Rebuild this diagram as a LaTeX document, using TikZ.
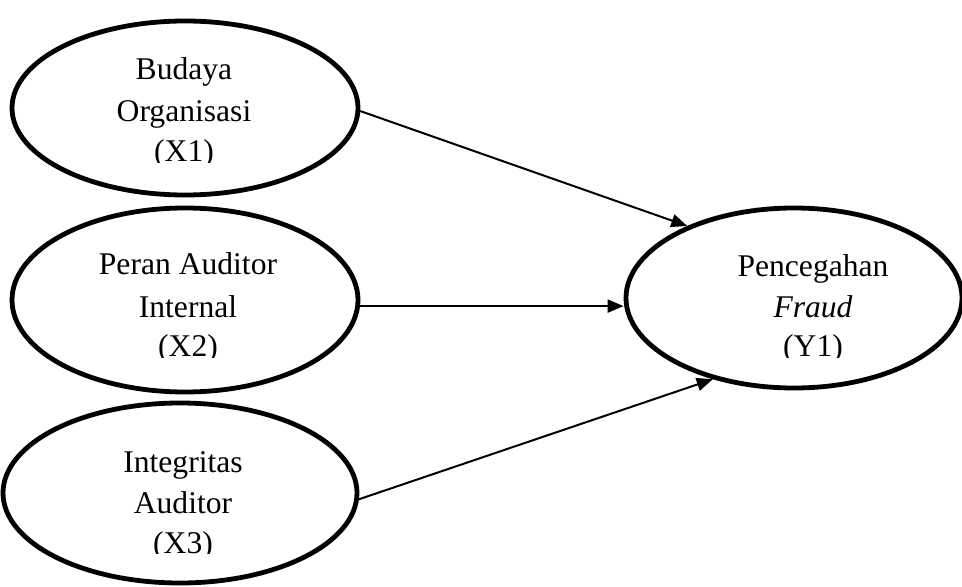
\documentclass[tikz,border=0pt]{standalone}
\usepackage{fontspec}
\setmainfont{Liberation Serif}
\usetikzlibrary{shapes.geometric,arrows.meta}
\begin{document}
\begin{tikzpicture}[x=0.5pt,y=-0.5pt,
  oval/.style={ellipse,draw,line width=2.4pt,inner sep=0pt},
  lbl/.style={anchor=base,inner sep=0pt,font=\fontsize{15.8pt}{21pt}\selectfont},
  arr/.style={line width=1pt,-{Triangle[length=8pt,width=6.5pt]}}]
\useasboundingbox (0,0) rectangle (962,587);
% ellipses
\node[oval,minimum width=173pt,minimum height=87pt] (x1) at (185,108) {};
\node[oval,minimum width=173pt,minimum height=92pt] (x2) at (185,300) {};
\node[oval,minimum width=177pt,minimum height=90pt] (x3) at (180,493) {};
\node[oval,minimum width=168pt,minimum height=90pt] (y1) at (794,298) {};
% texts
\node[lbl] (x1a) at (184,80) {Budaya};
\node[lbl] (x1b) at (184,122) {Organisasi};
\begin{scope}
  \clip (100,120) rectangle (270,162.5);
  \node[lbl] (x1c) at (184,162) {(X1)};
\end{scope}
\node[lbl] (x2a) at (188,275) {Peran Auditor};
\node[lbl] (x2b) at (188,317) {Internal};
\begin{scope}
  \clip (100,315) rectangle (270,357.5);
  \node[lbl] (x2c) at (188,357) {(X2)};
\end{scope}
\node[lbl] (x3a) at (183,472) {Integritas};
\node[lbl] (x3b) at (183,513) {Auditor};
\begin{scope}
  \clip (100,511) rectangle (270,553.5);
  \node[lbl] (x3c) at (183,553) {(X3)};
\end{scope}
\node[lbl] (y1a) at (813,277) {Pencegahan};
\node[lbl] (y1b) at (813,317) {\itshape Fraud};
\begin{scope}
  \clip (720,315) rectangle (900,357.5);
  \node[lbl] (y1c) at (813,357) {(Y1)};
\end{scope}
% arrows
\draw[arr] (x1.-1) -- (y1.146.6);
\draw[arr] (x2.-2.4) -- (x2.-2.4 -| y1.west);
\draw[arr] (x3.-2.3) -- (y1.225);
\end{tikzpicture}
\end{document}
